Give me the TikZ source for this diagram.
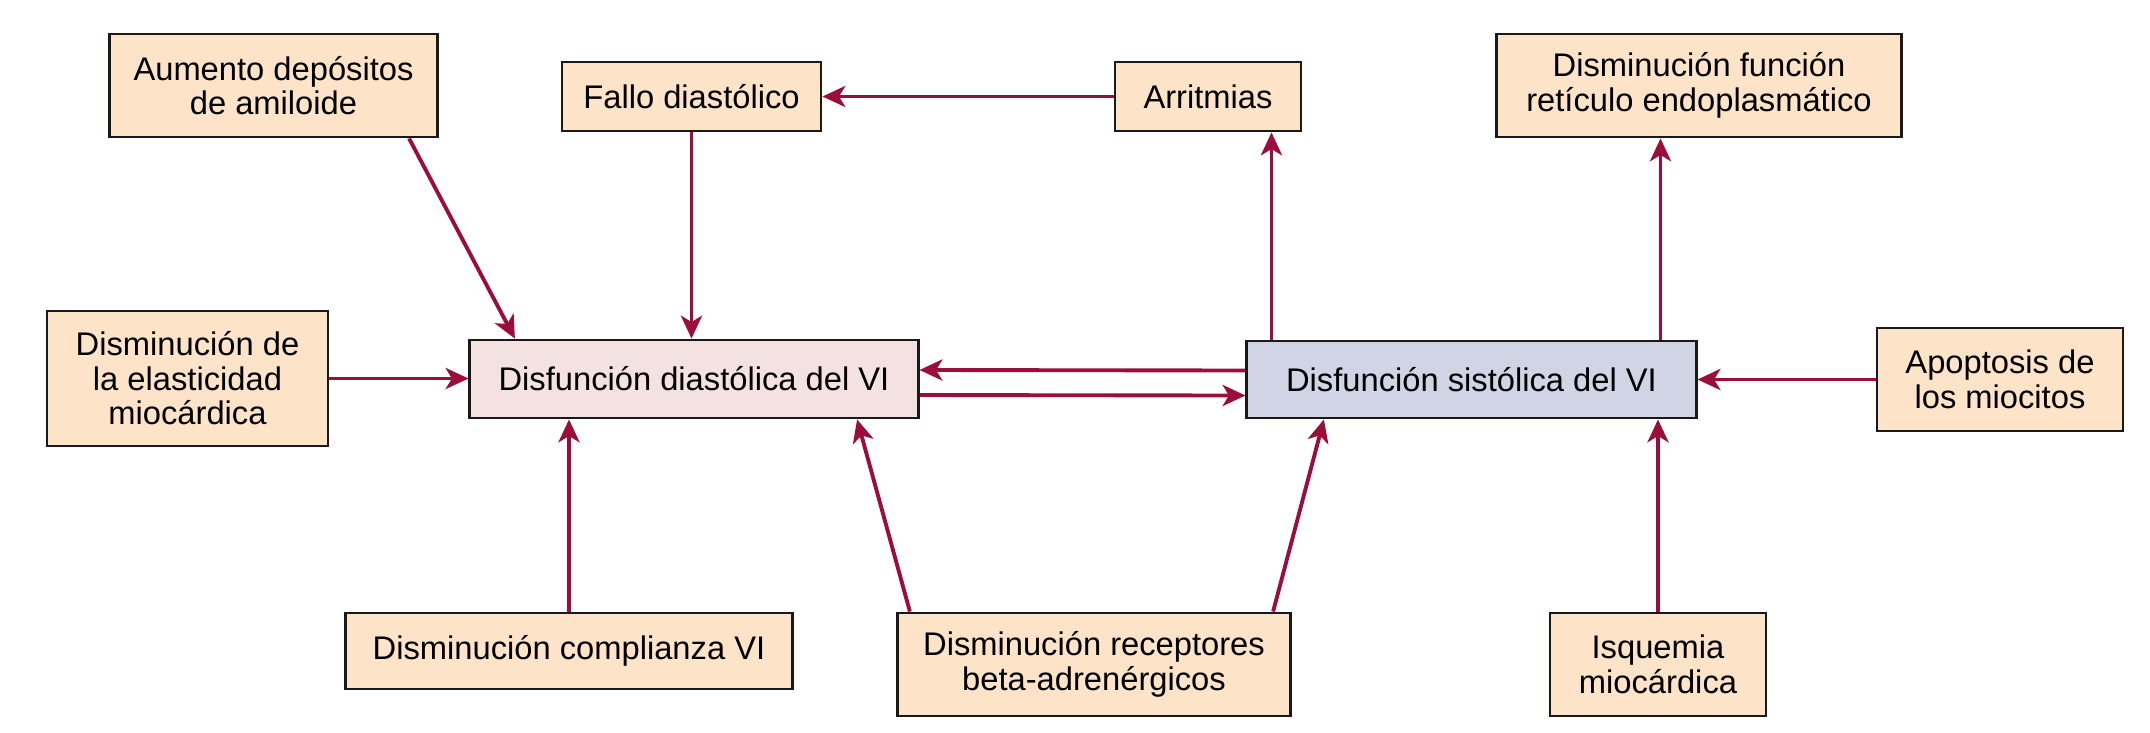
\documentclass[tikz,border=0pt]{standalone}
\usepackage{fontspec}
\setmainfont{Liberation Sans}
\usetikzlibrary{arrows.meta}
\definecolor{melocoton}{RGB}{253,228,200}
\definecolor{rosaVI}{RGB}{244,226,226}
\definecolor{lilaVI}{RGB}{208,212,228}
\definecolor{granate}{RGB}{155,14,60}

\begin{document}
\begin{tikzpicture}[
  x=0.01cm,y=-0.01cm,
  caja/.style={draw=black!90,line width=0.8pt,fill=melocoton,align=center,
               inner sep=0pt,font=\fontsize{9.3}{9.8}\selectfont},
  flecha/.style={granate,line width=1.1pt,
                 -{Stealth[length=6.5pt,width=6pt,inset=1.8pt]}}
]
\useasboundingbox (0,0) rectangle (2150,733);

% ---- fila superior ----
\node[caja,minimum width=3.27cm,minimum height=1.03cm] (amiloide) at (273.5,85.5)
  {Aumento depósitos\\de amiloide};
\node[caja,minimum width=2.59cm,minimum height=0.69cm] (fallo) at (691.5,96.5)
  {Fallo diastólico};
\node[caja,minimum width=1.86cm,minimum height=0.69cm] (arritmias) at (1208,96.5)
  {Arritmias};
\node[caja,minimum width=4.04cm,minimum height=1.03cm] (reticulo) at (1699,85.5)
  {Disminución función\\retículo endoplasmático};

% ---- fila central ----
\node[caja,minimum width=2.81cm,minimum height=1.35cm] (elasticidad) at (187.5,378.5)
  {Disminución de\\la elasticidad\\miocárdica};
\node[caja,fill=rosaVI,minimum width=4.48cm,minimum height=0.78cm] (diastolica) at (694,379)
  {Disfunción diastólica del VI};
\node[caja,fill=lilaVI,minimum width=4.49cm,minimum height=0.77cm] (sistolica) at (1471.5,379.5)
  {Disfunción sistólica del VI};
\node[caja,minimum width=2.46cm,minimum height=1.03cm] (apoptosis) at (2000,379.5)
  {Apoptosis de\\los miocitos};

% ---- fila inferior ----
\node[caja,minimum width=4.46cm,minimum height=0.76cm] (complianza) at (569,651)
  {Disminución complianza VI};
\node[caja,minimum width=3.92cm,minimum height=1.03cm] (receptores) at (1094,664.5)
  {Disminución receptores\\beta-adrenérgicos};
\node[caja,minimum width=2.16cm,minimum height=1.03cm] (isquemia) at (1658,664.5)
  {Isquemia\\miocárdica};

% ---- flechas hacia la disfuncion diastolica ----
\draw[flecha] ([xshift=1.355cm]amiloide.south) -- ([xshift=-1.79cm]diastolica.north);
\draw[flecha] (fallo.south) -- (fallo.south |- diastolica.north);
\draw[flecha] (elasticidad.east) -- (elasticidad.east -| diastolica.west);
\draw[flecha] (complianza.north) -- (complianza.north |- diastolica.south);
\draw[flecha] ([xshift=-1.84cm]receptores.north) -- ([xshift=1.63cm]diastolica.south);

% ---- doble flecha entre ambas disfunciones ----
\draw[flecha] ([yshift=0.09cm]sistolica.west) -- ([yshift=0.09cm]diastolica.east);
\draw[flecha] ([yshift=-0.16cm]diastolica.east) -- ([yshift=-0.16cm]sistolica.west);

% ---- flechas de la disfuncion sistolica ----
\draw[flecha] (arritmias.west) -- (arritmias.west -| fallo.east);
\draw[flecha] ([xshift=0.26cm]sistolica.north west) -- ([xshift=0.26cm]sistolica.north west |- arritmias.south);
\draw[flecha] ([xshift=-0.37cm]sistolica.north east) -- ([xshift=-0.37cm]sistolica.north east |- reticulo.south);
\draw[flecha] (apoptosis.west) -- (apoptosis.west -| sistolica.east);
\draw[flecha] ([xshift=1.79cm]receptores.north) -- ([xshift=-1.475cm]sistolica.south);
\draw[flecha] (isquemia.north) -- (isquemia.north |- sistolica.south);

\end{tikzpicture}
\end{document}
